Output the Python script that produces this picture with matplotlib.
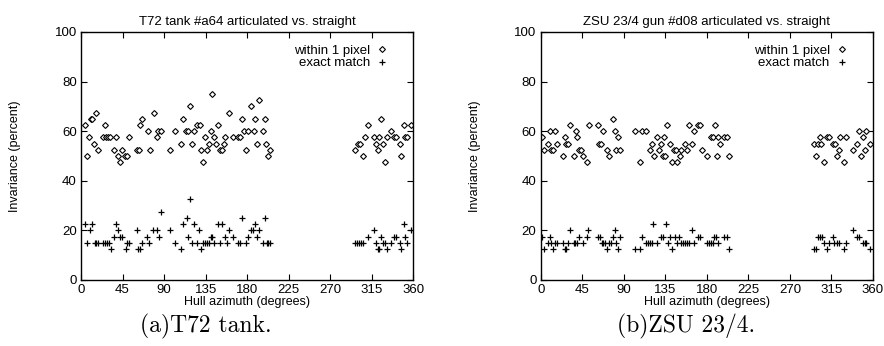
import matplotlib
matplotlib.use("Agg")
import matplotlib.pyplot as plt

# --- T72 tank #a64 ---
t72_pix_az = [4.0, 6.1, 8.3, 10.5, 12.0, 14.1, 16.3, 18.4, 23.9, 26.4, 27.5, 29.3, 31.1, 36.1,
              38.3, 40.1, 42.3, 44.5, 47.3, 50.2, 52.0, 61.1, 62.5, 64.3, 66.5, 72.3, 74.5,
              78.8, 82.4, 83.9, 86.4, 96.5, 102.3, 108.4, 110.6, 113.5, 116.0, 118.6, 120.7,
              122.5, 126.2, 128.7, 130.5, 132.3, 134.5, 136.6, 138.4, 140.6, 142.4, 144.6,
              146.7, 148.6, 150.4, 152.9, 154.7, 156.5, 160.5, 164.8, 169.9, 172.4, 174.7,
              176.7, 178.9, 180.7, 184.3, 186.9, 188.7, 190.9, 192.6, 196.7, 198.8, 200.6,
              203.1, 204.9, 297.1, 300.0, 302.5, 305.0, 307.3, 311.2, 317.3, 319.2, 321.3,
              323.1, 325.3, 327.1, 329.3, 331.5, 335.4, 339.4, 341.2, 345.2, 347.0, 349.6,
              351.4, 353.6, 357.6]
t72_pix_val = [62.5, 50, 57.5, 65, 65, 55, 67.5, 52.5, 57.5, 62.5, 57.5, 57.5, 57.5, 52.5,
               57.5, 50, 47.5, 52.5, 50, 50, 57.5, 52.5, 52.5, 62.5, 65, 60, 52.5,
               67.5, 57.5, 60, 60, 52.5, 60, 55, 65, 60, 60, 70, 55,
               60, 62.5, 62.5, 52.5, 47.5, 57.5, 52.5, 55, 60, 75, 57.5,
               55, 62.5, 52.5, 52.5, 55, 57.5, 67.5, 57.5, 57.5, 57.5, 65,
               60, 52.5, 60, 70, 60, 65, 55, 72.5, 60, 65, 55,
               50, 52.5, 52.5, 55, 55, 50, 57.5, 62.5, 57.5, 55, 52.5,
               57.5, 65, 55, 47.5, 57.5, 60, 57.5, 57.5, 55, 50, 62.5,
               57.5, 57.5, 62.5]

t72_exact_az = [4.0, 6.9, 10.1, 11.9, 14.8, 16.6, 18.4, 24.2, 26.4, 28.6, 30.7, 32.2, 36.1,
                38.3, 40.1, 41.9, 44.1, 48.4, 50.2, 52.4, 60.4, 62.2, 64.3, 66.5, 71.9, 74.1,
                78.4, 82.4, 84.2, 86.4, 96.5, 102.3, 108.4, 110.6, 114.6, 116.4, 118.6, 120.4,
                122.5, 126.2, 128.3, 130.5, 132.3, 134.5, 136.3, 138.4, 140.6, 142.4, 144.6,
                148.6, 150.4, 152.6, 156.5, 158.7, 160.5, 164.8, 170.6, 172.4, 174.7, 178.6,
                180.4, 184.3, 186.5, 188.7, 190.9, 192.6, 196.7, 198.8, 201.0, 203.0, 204.6,
                297.0, 299.3, 301.5, 303.6, 305.8, 311.2, 317.3, 319.2, 321.3, 323.1, 325.3,
                327.1, 329.3, 331.5, 335.4, 339.4, 341.2, 345.2, 347.0, 349.6, 351.4, 353.6,
                357.6]
t72_exact_val = [22.5, 15, 20, 22.5, 15, 15, 15, 15, 15, 15, 15, 12.5, 17.5,
                 22.5, 20, 17.5, 17.5, 12.5, 15, 15, 20, 12.5, 12.5, 15, 17.5, 15,
                 20, 20, 17.5, 27.5, 20, 15, 12.5, 22.5, 25, 17.5, 32.5, 15,
                 22.5, 15, 20, 12.5, 15, 15, 15, 15, 17.5, 17.5, 15,
                 22.5, 15, 22.5, 17.5, 15, 20, 17.5, 15, 15, 25, 15,
                 17.5, 20, 20, 22.5, 17.5, 20, 15, 25, 15, 15, 15,
                 15, 15, 15, 15, 15, 17.5, 20, 15, 12.5, 12.5, 17.5,
                 15, 15, 12.5, 15, 17.5, 17.5, 15, 12.5, 22.5, 17.5, 15,
                 20]

# --- ZSU 23/4 gun #d08 ---
zsu_pix_az = [1.4, 3.6, 7.9, 9.7, 11.5, 13.7, 15.9, 17.7, 23.8, 25.9, 27.8, 29.6, 31.7, 35.7,
              37.9, 39.7, 41.5, 43.7, 45.5, 49.8, 52.0, 61.7, 63.5, 65.7, 67.5, 71.8, 74.0,
              78.0, 80.1, 81.9, 84.1, 85.9, 101.8, 107.9, 110.1, 114.1, 118.4, 120.2, 122.4,
              126.4, 128.2, 130.4, 132.5, 133.5, 134.3, 136.5, 140.4, 142.3, 144.5, 146.6,
              148.0, 150.6, 152.4, 156.3, 158.2, 160.3, 164.3, 166.4, 170.1, 172.2, 174.4,
              180.6, 184.5, 186.7, 188.9, 190.6, 192.4, 194.6, 198.2, 202.2, 204.4,
              296.1, 298.6, 300.1, 302.6, 304.1, 306.6, 310.0, 312.4, 316.3, 318.8, 320.6,
              322.8, 324.6, 328.6, 330.8, 338.7, 342.7, 344.5, 346.7, 348.9, 351.0, 352.8,
              356.8]
zsu_pix_val = [57.5, 52.5, 55, 60, 52.5, 52.5, 60, 55, 50, 57.5, 55, 55, 62.5, 50,
               60, 57.5, 52.5, 52.5, 50, 47.5, 62.5, 62.5, 55, 55, 60, 52.5, 50,
               65, 60, 52.5, 57.5, 52.5, 60, 47.5, 60, 60, 52.5, 55, 50,
               57.5, 52.5, 55, 50, 57.5, 50, 62.5, 55, 47.5, 52.5, 52.5,
               47.5, 50, 52.5, 55, 52.5, 62.5, 55, 60, 62.5, 62.5, 52.5,
               50, 57.5, 57.5, 62.5, 50, 57.5, 55, 57.5, 57.5, 50,
               55, 50, 55, 57.5, 55, 47.5, 57.5, 57.5, 55, 55, 50,
               52.5, 57.5, 47.5, 57.5, 52.5, 55, 60, 50, 57.5, 52.5, 60,
               55]

zsu_exact_az = [1.4, 3.6, 7.9, 9.7, 11.5, 13.0, 15.9, 17.7, 23.8, 25.9, 27.8, 29.9, 31.7,
                35.7, 37.5, 39.7, 41.9, 45.8, 49.8, 51.6, 61.7, 63.9, 66.1, 67.8, 70.0, 71.8,
                74.0, 75.8, 78.0, 80.1, 81.9, 84.1, 85.9, 101.8, 107.9, 110.1, 114.1, 116.2,
                118.4, 120.2, 121.7, 126.0, 130.0, 132.2, 136.1, 137.9, 140.5, 142.3, 145.1,
                148.0, 150.2, 152.4, 154.2, 156.3, 158.5, 160.3, 164.3, 166.4, 170.1, 172.2,
                180.2, 182.3, 184.5, 186.7, 188.1, 190.3, 192.4, 198.2, 202.2, 204.4,
                295.7, 298.3, 300.1, 302.2, 304.4, 306.6, 310.5, 312.4, 316.3, 318.2, 320.6,
                322.8, 328.6, 330.8, 338.7, 342.7, 344.5, 348.9, 351.0, 352.8, 356.8]
zsu_exact_val = [17.5, 12.5, 15, 17.5, 15, 12.5, 15, 15, 15, 12.5, 12.5, 15, 20,
                 15, 15, 15, 17.5, 15, 17.5, 20, 17.5, 17.5, 15, 15, 15, 12.5,
                 15, 15, 17.5, 20, 15, 12.5, 17.5, 12.5, 12.5, 17.5, 15, 15,
                 15, 15, 22.5, 15, 17.5, 17.5, 22.5, 15, 17.5, 12.5, 17.5,
                 15, 17.5, 15, 15, 15, 15, 15, 20, 15, 17.5, 17.5,
                 15, 15, 15, 15, 17.5, 17.5, 15, 17.5, 17.5, 12.5,
                 12.5, 12.5, 17.5, 17.5, 17.5, 15, 12.5, 15, 17.5, 15, 15,
                 15, 12.5, 15, 20, 17.5, 17.5, 15, 15, 15, 12.5]

panels = [
    ("T72 tank #a64 articulated vs. straight", "(a)T72 tank.",
     t72_pix_az, t72_pix_val, t72_exact_az, t72_exact_val),
    ("ZSU 23/4 gun #d08 articulated vs. straight", "(b)ZSU 23/4.",
     zsu_pix_az, zsu_pix_val, zsu_exact_az, zsu_exact_val),
]

plt.rcParams["font.family"] = ["Liberation Sans", "DejaVu Sans"]

W, H = 884, 346
fig = plt.figure(figsize=(W / 100, H / 100), dpi=100)

lefts = [81, 540.7]
captions_x = [206, 686]
for i, (title, caption, paz, pval, eaz, evals) in enumerate(panels):
    x0 = lefts[i]
    ax = fig.add_axes([x0 / W, 1 - 280 / H, 332.3 / W, 248 / H])
    ax.plot(paz, pval, linestyle="none", marker="D", markersize=3.0,
            markerfacecolor="white", markeredgecolor="black", markeredgewidth=0.8,
            label="within 1 pixel")
    ax.plot(eaz, evals, linestyle="none", marker="+", markersize=4.5,
            color="black", markeredgewidth=0.9, label="exact match")
    ax.set_xlim(0, 360)
    ax.set_ylim(0, 100)
    ax.set_xticks(range(0, 361, 45))
    ax.set_yticks(range(0, 101, 20))
    ax.tick_params(direction="in", top=True, right=True, length=4.5, width=0.8,
                   labelsize=9.5, pad=3)
    for s in ax.spines.values():
        s.set_linewidth(1.0)
    ax.set_title(title, fontsize=9.5, pad=5)
    ax.set_xlabel("Hull azimuth (degrees)", fontsize=9, labelpad=0)
    ax.set_ylabel("Invariance (percent)", fontsize=9, labelpad=24)
    ax.legend(loc="upper right", bbox_to_anchor=(0.945, 0.98), frameon=False,
              markerfirst=False, fontsize=9.5, handlelength=0.8, handletextpad=0.5,
              labelspacing=0.0, borderaxespad=0.2)
    fig.text(captions_x[i] / W, 1 - 326 / H, caption, fontsize=17,
             family="cmr10", ha="center", va="center")

fig.savefig("out.png", dpi=100)
